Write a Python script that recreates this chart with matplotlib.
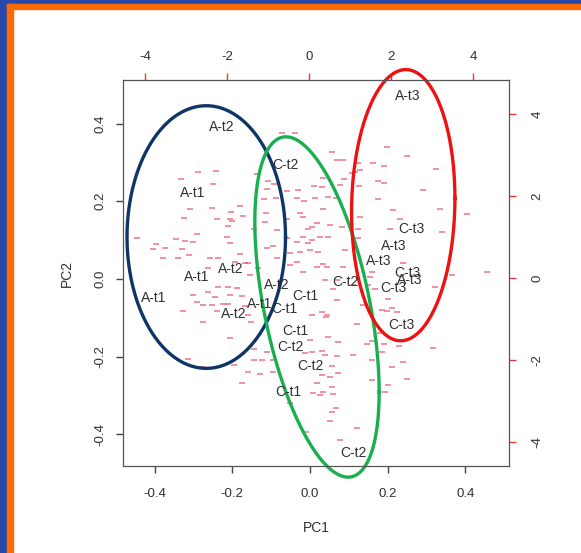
import numpy as np
import matplotlib
matplotlib.use("Agg")
import matplotlib.pyplot as plt
from matplotlib.patches import Rectangle

plt.rcParams['font.family'] = ['Liberation Sans', 'DejaVu Sans']
plt.rcParams['axes.unicode_minus'] = False

# sample scores (PC1, PC2)
sample_names = ['A-t3', 'A-t2', 'C-t2', 'A-t1', 'C-t3', 'A-t3', 'A-t3', 'C-t3',
                'A-t3', 'C-t3', 'C-t3', 'C-t2', 'A-t2', 'C-t1', 'A-t1', 'C-t1',
                'C-t1', 'C-t2', 'C-t2', 'C-t1', 'C-t2', 'A-t1', 'A-t1', 'A-t2',
                'A-t2']
pc1 = [0.252, -0.227, -0.062, -0.301, 0.262, 0.216, 0.178, 0.250,
       0.257, 0.214, 0.236, 0.090, -0.086, -0.013, -0.129, -0.067,
       -0.039, -0.051, 0.000, -0.056, 0.112, -0.403, -0.293, -0.203,
       -0.196]
pc2 = [0.471, 0.391, 0.293, 0.221, 0.129, 0.085, 0.047, 0.015,
       -0.003, -0.024, -0.118, -0.007, -0.015, -0.043, -0.064, -0.077,
       -0.134, -0.174, -0.223, -0.292, -0.449, -0.048, 0.004, 0.026,
       -0.091]

# variable loadings (drawn as "-" marks on the secondary axes)
load_x = [-2.70, -2.28, -3.12, -2.35, -1.28, -1.01, -0.85, -1.03, -0.80, -1.09,
          -0.54, -0.26, 0.12, -0.30, -0.13, 0.15, -2.90, -2.37, -1.68, -1.91,
          -1.93, -1.88, -1.97, -3.04, -2.24, -1.60, -1.34, -1.05, -1.07, -0.79,
          -0.54, -0.22, -0.14, 0.07, 0.19, -0.02, -4.20, -2.74, -3.25, -3.02,
          -2.84, -3.74, -3.51, -3.10, -3.81, -3.55, -3.20, -2.92, -2.41, -1.99,
          -1.93, -1.03, -0.87, -0.54, -0.30, -0.14, 0.07, 0.02, -0.46, -0.79,
          -1.48, -0.46, -0.14, 0.19, -2.46, -0.67, -0.34,
          0.55, 0.84, 0.68, 1.90, 2.40, 1.57, 1.83, 1.20, 1.24, 1.12,
          1.04, 3.10, 1.69, 1.83, 1.23, 0.85, 0.76, 0.35, 0.31, 2.79,
          1.69, 0.47, 0.65, 2.06, 3.20, 3.85, 2.22, 1.24, 0.35, 0.80,
          0.51, 1.20, 1.98, 3.24, 1.20, 0.47, 0.88, 0.35, 0.84, 1.53,
          2.30, 3.48, 4.33, 1.49,
          -3.07, -2.59, -1.93, -2.84, -2.74, -2.46, -2.21, -1.97, -1.76, -1.93,
          -2.29, -2.58, -2.37, -2.09, -1.97, -2.24, -1.64, -1.56, -1.48, -1.42,
          -1.34, -1.34, -1.15, -1.83, -2.94, -2.62, -1.48, -1.20, -0.89, -1.64,
          -1.03, -0.87, 0.07, 0.02, 0.07, 0.10, -0.46,
          0.59, 1.08, 0.68, 0.45, 0.41, 1.16, 1.93, 1.90, 2.02, 2.15,
          1.73, 1.53, 1.41, 1.83, 2.20, 3.02, 0.32, 0.68, 1.08, 1.53,
          2.30, 2.02, 0.55, 0.31, 0.51, 0.71, 1.53, 2.40, 1.93, 1.85,
          0.55, 0.33, 0.58, 0.66, 0.55,
          0.27, -0.02, 0.23, -0.22, -0.30, 0.43, 0.68, 0.39, 0.31, 1.32,
          0.47, 0.71, 0.39, -0.10, 0.19, 0.27, 1.77, 3.07, 1.45, 1.61,
          1.77, 0.51, 1.17, -0.07, 0.76,
          -2.21, -1.80, -1.68, -1.56, -1.24, -1.44]
load_y = [2.58, 2.60, 2.41, 2.29, 2.54, 2.37, 2.29, 2.16, 1.94, 1.93,
          2.12, 2.15, 2.25, 1.94, 1.89, 1.94, 1.68, 1.71, 1.76, 1.61,
          1.43, 1.40, 1.27, 1.46, 1.43, 1.51, 1.19, 1.58, 1.37, 1.17,
          1.43, 1.58, 1.48, 1.25, 1.33, 1.19, 0.98, 1.07, 0.94, 0.90,
          0.88, 0.82, 0.74, 0.70, 0.70, 0.48, 0.50, 0.55, 0.50, 0.99,
          0.85, 0.72, 0.78, 0.97, 0.87, 1.01, 0.93, 0.68, 0.60, 0.48,
          0.36, 0.32, 0.15, 0.28, 0.24, 3.53, 3.53,
          3.08, 2.88, 2.88, 3.20, 2.98, 2.81, 2.74, 2.80, 2.63, 2.58,
          2.55, 2.66, 2.37, 2.32, 2.24, 2.41, 2.27, 2.43, 2.23, 2.15,
          1.93, 1.98, 1.96, 1.66, 1.69, 1.56, 1.43, 1.48, 1.68, 1.25,
          1.29, 1.19, 1.20, 1.13, 0.97, 0.99, 0.68, 0.33, 0.26, 0.15,
          0.37, 0.07, 0.15, 0.03,
          -0.80, -1.08, -1.47, -0.41, -0.58, -0.33, -0.21, -0.23, -0.25, -0.41,
          -0.46, -0.66, -0.66, -0.63, -0.63, -0.80, -0.44, -0.68, -0.90, -1.07,
          -1.73, -2.00, -2.00, -2.12, -1.98, -2.16, -2.29, -2.35, -2.29, -2.57,
          -1.80, -2.00, -0.90, -1.50, -1.80, -2.81, -3.06,
          -0.28, -0.17, -0.54, -0.90, -0.96, -1.12, -0.52, -0.80, -0.74, -0.82,
          -1.33, -1.54, -1.61, -1.62, -1.66, -1.70, -1.77, -1.90, -1.88, -2.00,
          -2.04, -2.18, -2.15, -2.37, -2.42, -2.31, -2.49, -2.47, -2.61, -2.77,
          -2.67, -2.77, -2.83, -3.18, -3.26,
          1.01, 0.85, 0.64, 0.64, 0.40, 0.28, -0.05, -0.05, -0.82, -0.66,
          -1.43, -1.55, -1.88, -1.84, -2.57, -2.85, -1.80, -0.21, -0.17, -0.28,
          -0.78, -3.49, -3.66, -3.76, -3.95,
          0.48, 0.40, 0.59, 0.36, 0.24, 0.07]

# group ellipses: centre, half-extent along x/y, correlation
group_names = ['A', 'C', 'T3']
group_colors = ['#0e3566', '#18b04f', '#ee1111']
ell_cx = [-0.267, 0.018, 0.240]
ell_cy = [0.108, -0.072, 0.190]
ell_hx = [0.204, 0.160, 0.133]
ell_hy = [0.338, 0.438, 0.349]
ell_rho = [0.0, -0.50, 0.05]

pc_ticks = [-0.4, -0.2, 0.0, 0.2, 0.4]
load_ticks = [-4, -2, 0, 2, 4]

W, H = 581, 553
fig = plt.figure(figsize=(W / 100, H / 100), dpi=100)
fig.patch.set_facecolor('white')
pos = [123 / W, 1 - 466 / H, 386 / W, 386 / H]

text_col = '#303030'
tick_red = '#e03a3a'

# secondary axes for loadings (top / right)
ax2 = fig.add_axes(pos)
ax2.set_xlim(-4.537, 4.878)
ax2.set_ylim(-4.585, 4.829)
ax2.plot(load_x, load_y, ls='none', marker='_', ms=4, mew=1.1,
         color='#e8506a', alpha=0.8)
ax2.xaxis.tick_top()
ax2.yaxis.tick_right()
ax2.set_xticks(load_ticks)
ax2.set_yticks(load_ticks)
ax2.tick_params(axis='x', colors=tick_red, labelcolor=text_col, length=5,
                width=1, labelsize=9.5, pad=7)
ax2.tick_params(axis='y', colors=tick_red, labelcolor=text_col, length=5,
                width=1, labelsize=9.5, pad=11, labelrotation=90)
for lbl in ax2.get_yticklabels():
    lbl.set_va('center')
for s in ax2.spines.values():
    s.set_visible(False)

# primary axes for sample scores
ax = fig.add_axes(pos)
ax.patch.set_visible(False)
ax.set_xlim(-0.4813, 0.5122)
ax.set_ylim(-0.4813, 0.5122)
ax.set_xticks(pc_ticks)
ax.set_yticks(pc_ticks)
ax.set_xticklabels([f'{t:.1f}' for t in pc_ticks])
ax.set_yticklabels([f'{t:.1f}' for t in pc_ticks])
ax.tick_params(axis='x', colors='#444444', labelcolor=text_col, length=5,
               width=1, labelsize=9.5, pad=11)
ax.tick_params(axis='y', colors='#444444', labelcolor=text_col, length=5,
               width=1, labelsize=9.5, pad=7, labelrotation=90)
for lbl in ax.get_yticklabels():
    lbl.set_va('center')
for s in ax.spines.values():
    s.set_color('#555555')
    s.set_linewidth(0.9)
ax.set_xlabel('PC1', fontsize=10, color=text_col, labelpad=15)
ax.set_ylabel('PC2', fontsize=10, color=text_col, labelpad=15)

for name, x, y in zip(sample_names, pc1, pc2):
    ax.text(x, y, name, ha='center', va='center', fontsize=10,
            color=text_col)

t = np.linspace(0, 2 * np.pi, 300)
circle = np.vstack([np.cos(t), np.sin(t)])
for cx, cy, hx, hy, r, col in zip(ell_cx, ell_cy, ell_hx, ell_hy, ell_rho,
                                  group_colors):
    cov = np.array([[hx * hx, r * hx * hy], [r * hx * hy, hy * hy]])
    pts = np.linalg.cholesky(cov) @ circle
    ax.plot(cx + pts[0], cy + pts[1], color=col, lw=2.4, clip_on=False)

# slide frame
fig.patches.append(Rectangle((0, 1 - 4 / H), 1, 4 / H, transform=fig.transFigure,
                             color='#2a47aa', zorder=5))
fig.patches.append(Rectangle((0, 0), 7 / W, 1, transform=fig.transFigure,
                             color='#2a47aa', zorder=5))
fig.patches.append(Rectangle((7 / W, 1 - 9 / H), 1, 5 / H,
                             transform=fig.transFigure, color='#ff6a00', zorder=5))
fig.patches.append(Rectangle((7 / W, 0), 6 / W, 1 - 4 / H,
                             transform=fig.transFigure, color='#ff6a00', zorder=5))

fig.savefig('out.png', dpi=100)
